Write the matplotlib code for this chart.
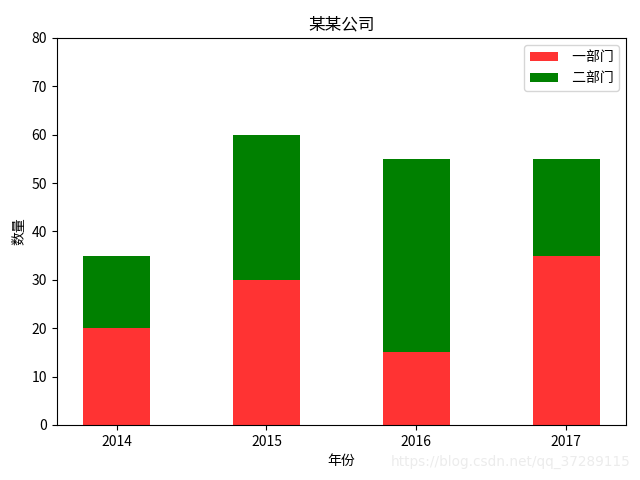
import matplotlib
matplotlib.use("Agg")
import matplotlib.pyplot as plt
import numpy as np

plt.rcParams['font.family'] = ['Noto Sans CJK SC', 'DejaVu Sans']
plt.rcParams['axes.unicode_minus'] = False

years = ['2014', '2015', '2016', '2017']
dept1 = [20, 30, 15, 35]
dept2 = [15, 30, 40, 20]

fig = plt.figure(figsize=(6.4, 4.8), dpi=100)
ax = fig.add_axes([0.089, 0.1146, 0.889, 0.8065])
x = np.arange(len(years))
ax.bar(x, dept1, width=0.45, color='red', alpha=0.8, label=' 一部门')
ax.bar(x, dept2, width=0.45, bottom=dept1, color='green', label=' 二部门')
ax.set_xticks(x)
ax.set_xticklabels(years)
ax.set_ylim(0, 80)
ax.set_title('某某公司')
ax.set_xlabel('年份')
ax.set_ylabel('数量')
ax.legend(loc='upper right')
fig.text(0.986, 0.037, 'https://blog.csdn.net/qq_37289115', ha='right', va='center',
         color='#ececec', fontsize=9.8, family='DejaVu Sans')
fig.savefig('out.png', dpi=100)
